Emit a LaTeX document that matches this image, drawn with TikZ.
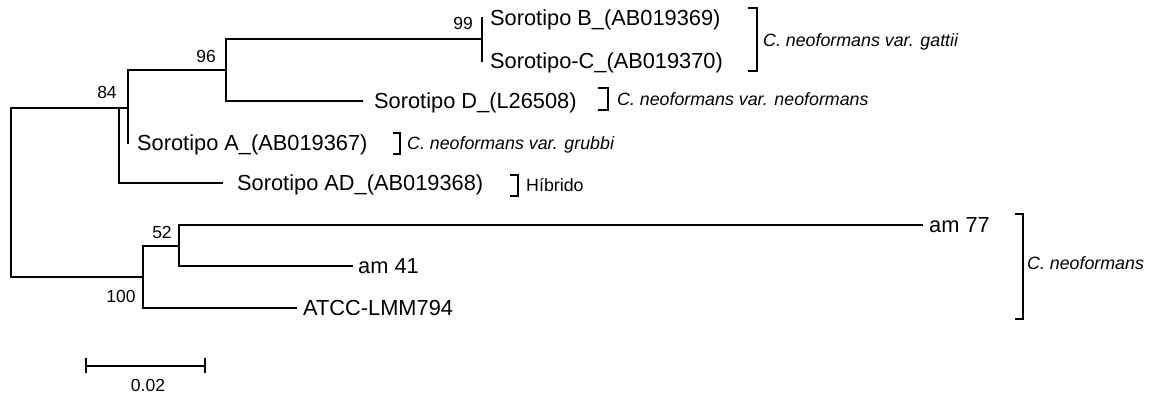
\documentclass[tikz,border=0pt]{standalone}
\usepackage{fontspec}
\setmainfont{Liberation Sans}
\begin{document}
\begin{tikzpicture}[x=1pt,y=-1pt,
  br/.style={line width=1.2pt, line cap=rect},
  leaf/.style={anchor=west, inner sep=0pt, font=\fontsize{21.8}{24}\selectfont, text height=15.6pt, text depth=0pt},
  boot/.style={inner sep=0pt, font=\fontsize{17.5}{20}\selectfont, text height=12.5pt, text depth=0pt},
  grp/.style={anchor=west, inner sep=0pt, font=\fontsize{17.8}{20}\selectfont\itshape, text height=12.7pt, text depth=0pt},
  grpr/.style={anchor=west, inner sep=0pt, font=\fontsize{17.8}{20}\selectfont, text height=12.7pt, text depth=0pt},
  brk/.style={line width=1.2pt}]
\useasboundingbox (0,0) rectangle (1156,396);
% internal nodes
\coordinate (rt) at (11,108);
\coordinate (rb) at (11,277);
\coordinate (n1) at (119,108);
\coordinate (n2) at (128,108);
\coordinate (n3) at (226,70);
\coordinate (n4) at (482,39);
\coordinate (n5) at (143,277);
\coordinate (n6) at (179,246);
% tips
\coordinate (tB) at (482,18);
\coordinate (tC) at (482,61);
\coordinate (tD) at (362,101);
\coordinate (tA) at (128,143);
\coordinate (tAD) at (222,183);
\coordinate (t77) at (922,225);
\coordinate (t41) at (352,266);
\coordinate (tAT) at (296,308);
% leaf labels
\node[leaf] (lB) at (490,18) {Sorotipo B\_(AB019369)};
\node[leaf] (lC) at (490,61) {Sorotipo-C\_(AB019370)};
\node[leaf] (lD) at (374,101) {Sorotipo D\_(L26508)};
\node[leaf] (lA) at (137,143) {Sorotipo A\_(AB019367)};
\node[leaf] (lAD) at (237,183) {Sorotipo AD\_(AB019368)};
\node[leaf] (l77) at (929,225) {am 77};
\node[leaf] (l41) at (358,266) {am 41};
\node[leaf] (lAT) at (303,308) {ATCC-LMM794};
% branches
\draw[br] (rt) -- (rb);
\draw[br] (rt) -- (n1) -- (n2);
\draw[br] (n1) |- (tAD);
\draw[br] (n2 |- n3) -- (n2 |- tA);
\draw[br] (n2 |- n3) -- (n3);
\draw[br] (n3 |- n4) -- (n3 |- tD) -- (tD);
\draw[br] (n3 |- n4) -- (n4);
\draw[br] (tB) -- (tC);
\draw[br] (rb) -- (n5);
\draw[br] (n5 |- n6) -- (n5 |- tAT) -- (tAT);
\draw[br] (n5 |- n6) -- (n6);
\draw[br] (n6 |- t77) -- (n6 |- t41) -- (t41);
\draw[br] (n6 |- t77) -- (t77);
% bootstrap values
\node[boot] (b99) at (463,23) {99};
\node[boot] (b96) at (206,56) {96};
\node[boot] (b84) at (107,92) {84};
\node[boot] (b52) at (162,232) {52};
\node[boot] (b100) at (121,296) {100};
% brackets
\draw[brk] (748,8) -- (757,8) -- (757,71) -- (748,71);
\node[grp] (g1) at (763,40) {C. neoformans var. gattii};
\draw[brk] (598,88) -- (608,88) -- (608,110) -- (598,110);
\node[grp] (g2) at (617,99) {C. neoformans var. neoformans};
\draw[brk] (393,133) -- (400,133) -- (400,154) -- (393,154);
\node[grp] (g3) at (407,143) {C. neoformans var. grubbi};
\draw[brk] (510,175) -- (518,175) -- (518,196) -- (510,196);
\node[grpr] (g4) at (526,185) {Híbrido};
\draw[brk] (1015,214) -- (1023,214) -- (1023,319) -- (1015,319);
\node[grp] (g5) at (1027,263) {C. neoformans};
% scale bar
\coordinate (s1) at (86,366);
\coordinate (s2) at (205,366);
\draw[br] (s1) -- (s2);
\draw[br] ([yshift=-6]s1) -- ([yshift=7]s1);
\draw[br] ([yshift=-6]s2) -- ([yshift=7]s2);
\node[boot] (sl) at (148,385) {0.02};
\end{tikzpicture}
\end{document}
